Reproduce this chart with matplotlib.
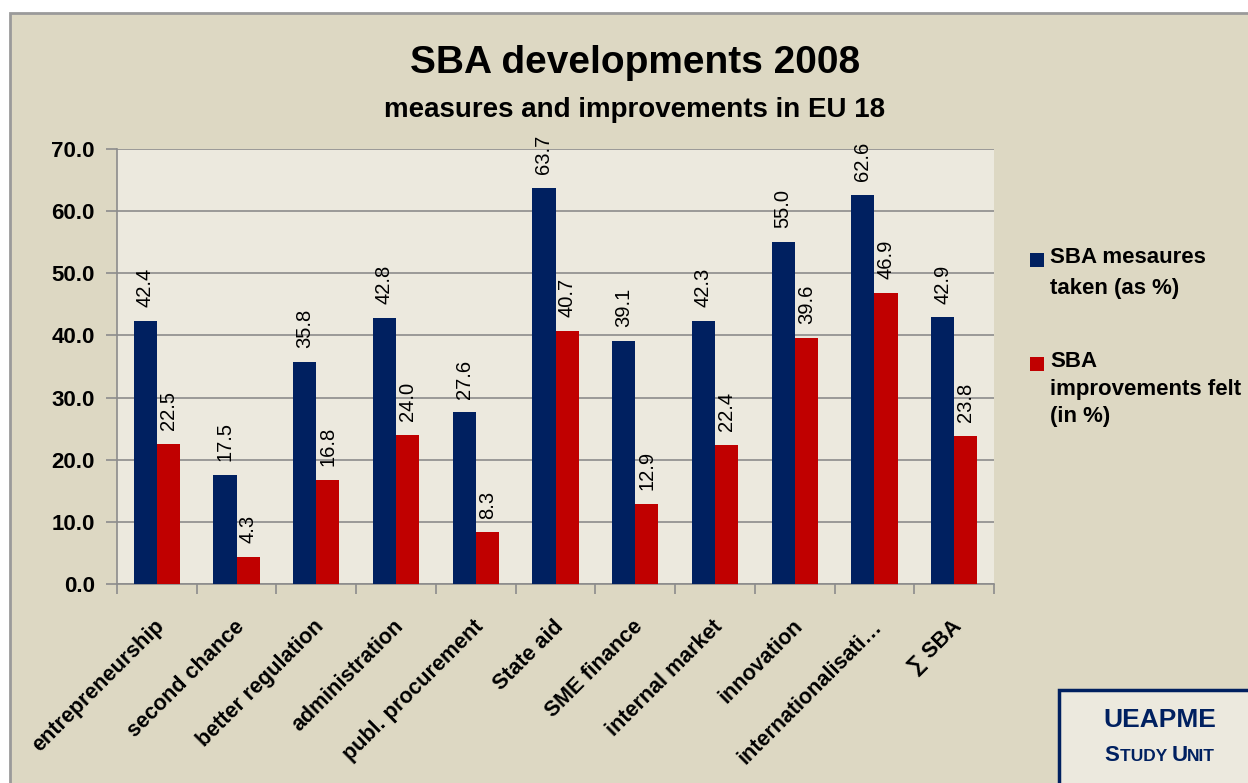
import matplotlib
matplotlib.use("Agg")
import matplotlib.pyplot as plt
from matplotlib.patches import Rectangle
import numpy as np

categories = ["entrepreneurship", "second chance", "better regulation", "administration",
              "publ. procurement", "State aid", "SME finance", "internal market",
              "innovation", "internationalisati…", "∑ SBA"]
measures_taken = [42.4, 17.5, 35.8, 42.8, 27.6, 63.7, 39.1, 42.3, 55.0, 62.6, 42.9]
improvements_felt = [22.5, 4.3, 16.8, 24.0, 8.3, 40.7, 12.9, 22.4, 39.6, 46.9, 23.8]
series_names = ["SBA mesaures\ntaken (as %)", "SBA\nimprovements felt\n(in %)"]
yticks = np.arange(0, 71, 10)

fam = ["Liberation Sans", "DejaVu Sans"]
plt.rcParams['font.family'] = fam

navy = "#002060"
red = "#C00000"
outer_bg = "#DDD8C3"
inner_bg = "#ECE9DE"

fig = plt.figure(figsize=(12.48, 7.83), dpi=100, facecolor="white")
W, H = 1248, 783
fig.patches.append(Rectangle((10 / W, -0.01), 1.1, 1 - 13 / H + 0.01, transform=fig.transFigure,
                             facecolor=outer_bg, edgecolor="#9A9A9A", linewidth=2, zorder=-10))

ax = fig.add_axes([117 / W, 1 - 584 / H, (994 - 117) / W, (584 - 149) / H])
ax.set_facecolor(inner_bg)

x = np.arange(len(categories))
bw = 0.29
b1 = ax.bar(x - bw / 2, measures_taken, bw, color=navy, zorder=3)
b2 = ax.bar(x + bw / 2, improvements_felt, bw, color=red, zorder=3)

for bars, vals in ((b1, measures_taken), (b2, improvements_felt)):
    for rect, v in zip(bars, vals):
        ax.annotate(f"{v:.1f}", (rect.get_x() + rect.get_width() / 2, v),
                    xytext=(0, 10), textcoords="offset points", rotation=90,
                    ha="center", va="bottom", fontsize=14.5)

ax.set_xlim(-0.5, len(categories) - 0.5)
ax.set_ylim(0, 70)
ax.set_yticks(yticks)
ax.set_yticklabels([f"{t:.1f}" for t in yticks], fontsize=16, fontweight="bold")
ax.yaxis.grid(True, color="#8C8C8C", linewidth=1.2, zorder=1)
ax.set_axisbelow(True)
ax.tick_params(axis="y", length=8, color="#8C8C8C", width=1.2, pad=8)

ax.set_xticks(np.arange(-0.5, len(categories), 1))
ax.set_xticklabels([])
ax.tick_params(axis="x", length=7, color="#8C8C8C", width=1.2)
for xi, lab in zip(x, categories):
    ax.annotate(lab, (xi, 0), xytext=(-2, -23), textcoords="offset points",
                rotation=45, ha="right", va="top", rotation_mode="anchor",
                fontsize=15.5, fontweight="bold")

for s in ["top", "right"]:
    ax.spines[s].set_visible(False)
for s in ["left", "bottom"]:
    ax.spines[s].set_color("#8C8C8C")
    ax.spines[s].set_linewidth(1.2)

fig.text(635 / W, 1 - 63 / H, "SBA developments 2008", ha="center", va="center",
         fontsize=28, fontweight="bold")
fig.text(635 / W, 1 - 110 / H, "measures and improvements in EU 18", ha="center", va="center",
         fontsize=20, fontweight="bold")

# legend
for (ly, col, name, ls) in ((259, navy, series_names[0], 1.6), (363, red, series_names[1], 1.42)):
    fig.patches.append(Rectangle((1030 / W, 1 - (ly + 8) / H), 14 / W, 14 / H,
                                 transform=fig.transFigure, facecolor=col, edgecolor="none"))
    fig.text(1050 / W, 1 - (ly - 12) / H, name, ha="left", va="top", fontsize=16,
             fontweight="bold", linespacing=ls)

# UEAPME box
fig.patches.append(Rectangle((1059 / W, -0.01), 0.2, (783 - 690) / H + 0.01, transform=fig.transFigure,
                             facecolor=inner_bg, edgecolor=navy, linewidth=2.5, zorder=2))
fig.text(1160 / W, 1 - 720 / H, "UEAPME", ha="center", va="center", color=navy,
         fontsize=19, fontweight="bold", zorder=3)

# small caps "STUDY UNIT"
pieces = [("S", 16), ("TUDY ", 12.5), ("U", 16), ("NIT", 12.5)]
renderer = fig.canvas.get_renderer()
widths = []
for txt, fs in pieces:
    t = fig.text(0, 0, txt, fontsize=fs, fontweight="bold")
    widths.append(t.get_window_extent(renderer).width)
    t.remove()
xpos = 1160 - sum(widths) / 2
for (txt, fs), w in zip(pieces, widths):
    fig.text(xpos / W, 1 - 761 / H, txt, ha="left", va="baseline", color=navy,
             fontsize=fs, fontweight="bold", zorder=3)
    xpos += w

fig.savefig("out.png", dpi=100, facecolor=fig.get_facecolor())
